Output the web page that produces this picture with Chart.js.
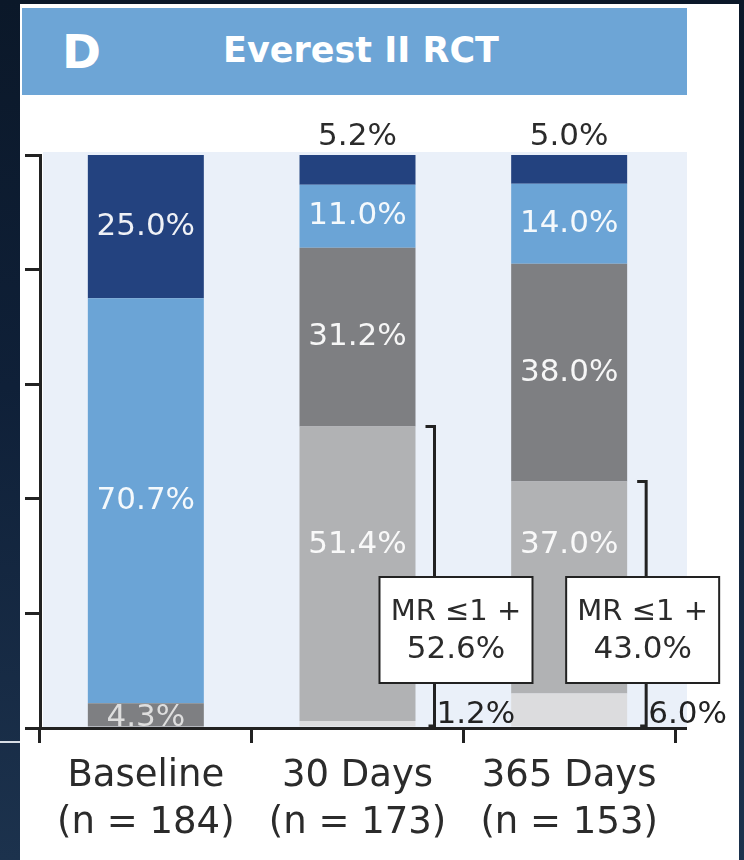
<!DOCTYPE html>
<html>
<head>
<meta charset="utf-8">
<script src="https://cdn.jsdelivr.net/npm/chart.js@4.4.1/dist/chart.umd.min.js"></script>
<style>
  html, body { margin: 0; padding: 0; }
  body {
    width: 744px; height: 860px; overflow: hidden; position: relative;
    background: linear-gradient(180deg, #0b1829 0%, #0f2038 45%, #1c324d 100%);
    font-family: "DejaVu Sans", sans-serif;
  }
  #panel { position: absolute; left: 20px; top: 4px; width: 719px; height: 856px; background: #fff; }
  #edge { position: absolute; left: 0; top: 741px; width: 20px; height: 2px; background: #d8dee6; }
  #header {
    position: absolute; left: 22px; top: 8px; width: 665px; height: 87px;
    background: #6da5d6; color: #fff; font-weight: bold;
  }
  #header .letter { position: absolute; left: 40px; top: 0; line-height: 87px; font-size: 47px; }
  #header .title { position: absolute; left: 201px; top: 0; line-height: 84px; font-size: 35px; }
  #wrap { position: absolute; left: 0; top: 0; width: 744px; height: 860px; }
</style>
</head>
<body>
<div id="panel"></div>
<div id="edge"></div>
<div id="header"><span class="letter">D</span><span class="title">Everest II RCT</span></div>
<div id="wrap"><canvas id="mrChart" width="744" height="860"></canvas></div>
<script>
const FONT = '"DejaVu Sans", sans-serif';

const categories = [["Baseline", "(n = 184)"], ["30 Days", "(n = 173)"], ["365 Days", "(n = 153)"]];
const mr0 = [0, 1.2, 6.0];      // lightest grey, bottom
const mr1 = [0, 51.4, 37.0];    // light grey
const mr2 = [4.3, 31.2, 38.0];  // dark grey
const mr3 = [70.7, 11.0, 14.0]; // light blue
const mr4 = [25.0, 5.2, 5.0];   // navy, top
const mrLe1 = [null, 52.6, 43.0];
const yTicks = [0, 20, 40, 60, 80, 100];

const colors = {
  mr0: "#dcdcde",
  mr1: "#b1b2b4",
  mr2: "#7e7f82",
  mr3: "#6ba4d6",
  mr4: "#23427f",
};

// where the light grey labels sit (value units) so they stay clear of the boxes
const mr1LabelAt = 32;
// annotation boxes: horizontal shift of box left edge from bracket, in px
const boxShift = [null, -55, -80];

function plotBackground() {
  return {
    id: "plotBackground",
    beforeDraw(chart) {
      const { ctx, chartArea } = chart;
      ctx.save();
      ctx.fillStyle = "#eaf0f9";
      ctx.fillRect(chartArea.left + 3, chartArea.top - 3, 687 - chartArea.left - 3, chartArea.bottom - chartArea.top + 3);
      ctx.restore();
    },
  };
}

const segmentLabels = {
  id: "segmentLabels",
  afterDatasetsDraw(chart) {
    const { ctx, chartArea, scales } = chart;
    const y = scales.y;
    ctx.save();
    ctx.font = `31px ${FONT}`;
    ctx.textBaseline = "middle";

    chart.data.datasets.forEach((ds, di) => {
      const meta = chart.getDatasetMeta(di);
      meta.data.forEach((bar, i) => {
        const v = ds.data[i];
        if (!v) return;
        const text = v.toFixed(1) + "%";
        const right = bar.x + bar.width / 2;
        if (ds.key === "mr0") {
          ctx.fillStyle = "#222";
          ctx.textAlign = "left";
          ctx.fillText(text, right + 21, chartArea.bottom - 13);
        } else if (ds.key === "mr4" && v < 10) {
          ctx.fillStyle = "#2b2b2b";
          ctx.textAlign = "center";
          ctx.fillText(text, bar.x, bar.y - 18);
        } else if (ds.key === "mr1") {
          ctx.fillStyle = "rgba(255,255,255,0.92)";
          ctx.textAlign = "center";
          ctx.fillText(text, bar.x, y.getPixelForValue(mr1LabelAt));
        } else {
          ctx.fillStyle = ds.key === "mr2" && v < 10 ? "#dedede" : "rgba(255,255,255,0.93)";
          ctx.textAlign = "center";
          ctx.fillText(text, bar.x, (bar.y + bar.base) / 2 + (v < 10 ? 3 : 0));
        }
      });
    });

    // brackets and MR <=1+ boxes
    const meta0 = chart.getDatasetMeta(0);
    ctx.strokeStyle = "#222";
    ctx.lineWidth = 3;
    mrLe1.forEach((v, i) => {
      if (v == null) return;
      const bar = meta0.data[i];
      const bx = bar.x + bar.width / 2 + 19;
      const top = y.getPixelForValue(v);
      const bottom = y.getPixelForValue(0) - 2;
      ctx.beginPath();
      ctx.moveTo(bx - 9, top);
      ctx.lineTo(bx, top);
      ctx.lineTo(bx, bottom);
      ctx.lineTo(bx - 6, bottom);
      ctx.stroke();

      const boxLeft = bx + boxShift[i];
      const boxTop = chartArea.bottom - 151;
      const w = 153, h = 106;
      ctx.fillStyle = "#fff";
      ctx.fillRect(boxLeft, boxTop, w, h);
      ctx.lineWidth = 2;
      ctx.strokeRect(boxLeft, boxTop, w, h);
      ctx.lineWidth = 3;
      ctx.fillStyle = "#2b2b2b";
      ctx.textAlign = "center";
      ctx.font = `29px ${FONT}`;
      ctx.fillText("MR \u22641 +", boxLeft + w / 2, boxTop + 35);
      ctx.font = `31px ${FONT}`;
      ctx.fillText(v.toFixed(1) + "%", boxLeft + w / 2, boxTop + 73);
    });

    // x axis line runs on past the last tick
    ctx.lineWidth = 3;
    ctx.beginPath();
    ctx.moveTo(chartArea.left - 15, Math.round(chartArea.bottom) + 0.5);
    ctx.lineTo(687, Math.round(chartArea.bottom) + 0.5);
    ctx.stroke();
    ctx.restore();
  },
};

const datasets = [
  { key: "mr0", label: "MR 0", data: mr0, backgroundColor: colors.mr0 },
  { key: "mr1", label: "MR 1+", data: mr1, backgroundColor: colors.mr1 },
  { key: "mr2", label: "MR 2+", data: mr2, backgroundColor: colors.mr2 },
  { key: "mr3", label: "MR 3+", data: mr3, backgroundColor: colors.mr3 },
  { key: "mr4", label: "MR 4+", data: mr4, backgroundColor: colors.mr4 },
].map((d) => ({ ...d, borderWidth: 0, barPercentage: 1, categoryPercentage: 0.548 }));

const ctx = document.getElementById("mrChart").getContext("2d");
new Chart(ctx, {
  type: "bar",
  data: { labels: categories, datasets },
  options: {
    responsive: false,
    animation: false,
    layout: { padding: { left: 25, right: 69, top: 155, bottom: 0 } },
    plugins: { legend: { display: false }, tooltip: { enabled: false } },
    scales: {
      x: {
        stacked: true,
        grid: { offset: true, drawOnChartArea: false, color: "#222", lineWidth: 3, tickLength: 15 },
        border: { color: "#222", width: 3 },
        ticks: {
          autoSkip: false,
          maxRotation: 0,
          padding: 10,
          color: "#2b2b2b",
          font: { family: FONT, size: 37, lineHeight: 1.27 },
        },
        afterFit: (s) => { s.height = 132; },
      },
      y: {
        stacked: true,
        min: 0,
        max: 100,
        afterBuildTicks: (s) => { s.ticks = yTicks.map((value) => ({ value })); },
        ticks: { display: false },
        grid: { drawOnChartArea: false, color: "#222", lineWidth: 3, tickLength: 15 },
        border: { color: "#222", width: 3 },
        afterFit: (s) => { s.width = 15; },
      },
    },
  },
  plugins: [plotBackground(), segmentLabels],
});
</script>
</body>
</html>
